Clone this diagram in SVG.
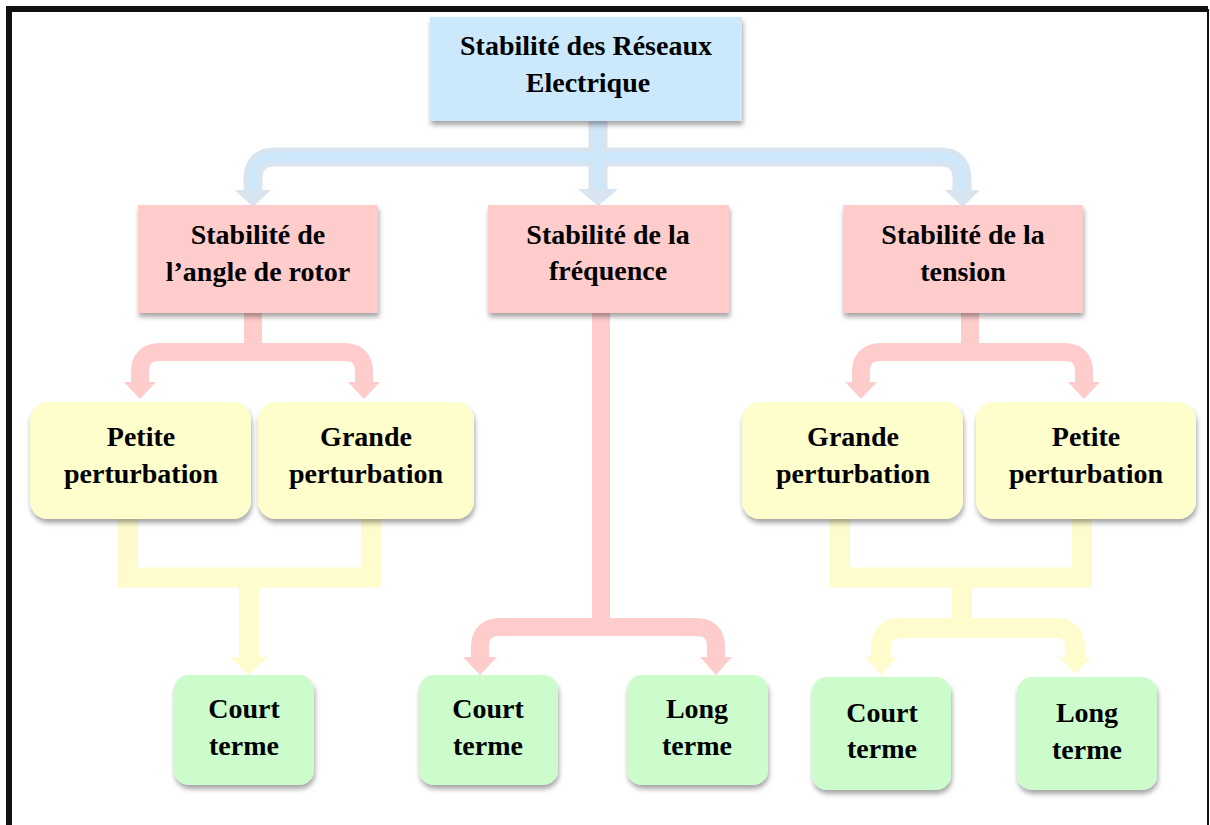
<svg xmlns="http://www.w3.org/2000/svg" width="1210" height="825" viewBox="0 0 1210 825">
  <defs>
    <filter id="sh" x="-10%" y="-10%" width="125%" height="135%">
      <feDropShadow dx="1" dy="4" stdDeviation="2.5" flood-color="#000" flood-opacity="0.35"/>
    </filter>
    <style>
      .t { font-family: "Liberation Serif", "Times New Roman", serif; font-weight: bold; font-size: 28px; fill: #000; text-anchor: middle; }
      .blue { fill: #cce9fb; }
      .red { fill: #ffcccc; }
      .yel { fill: #fefdcc; }
      .grn { fill: #ccfccc; }
      .bo { fill: none; stroke: #d9e4f1; stroke-width: 19; }
      .bi { fill: none; stroke: #cde8fa; stroke-width: 9; }
      .bh { fill: #d9e4f1; }
      .rc { fill: none; stroke: #ffcccc; stroke-width: 18; }
      .rh { fill: #ffcccc; }
      .yc { fill: none; stroke: #fefccc; stroke-width: 20; }
      .yh { fill: #fefccc; }
    </style>
  </defs>
  <rect x="0" y="0" width="1210" height="825" fill="#ffffff"/>
  <g id="frame" fill="none" stroke="#111">
    <path d="M9,830 V9 H1208" stroke-width="6"/>
    <path d="M1208,9 V830" stroke-width="2"/>
  </g>

  <g id="connectors">
    <!-- blue -->
    <path class="bo" d="M598,121 V190 M598,157 H275 Q253,157 253,179 V191 M598,157 H940 Q962,157 962,179 V191"/>
    <path class="bi" d="M598,121 V190 M598,157 H275 Q253,157 253,179 V191 M598,157 H940 Q962,157 962,179 V191"/>
    <polygon class="bh" points="578,189 618,189 598,206"/>
    <polygon class="bh" points="235,190 271,190 253,207"/>
    <polygon class="bh" points="945,190 980,190 962.5,207"/>
    <!-- red left -->
    <path class="rc" d="M253,313 V352 M140,384 V372 Q140,352 160,352 H344 Q364,352 364,372 V384"/>
    <polygon class="rh" points="124,382 156,382 140,399"/>
    <polygon class="rh" points="348,382 380,382 364,399"/>
    <!-- red middle -->
    <path class="rc" d="M601,313 V627 M480,658 V647 Q480,627 500,627 H696 Q716,627 716,647 V658"/>
    <polygon class="rh" points="463,657 497,657 480,675"/>
    <polygon class="rh" points="700,657 732,657 716,675"/>
    <!-- red right -->
    <path class="rc" d="M970,313 V352 M861,384 V372 Q861,352 881,352 H1064 Q1084,352 1084,372 V384"/>
    <polygon class="rh" points="845,382 877,382 861,399"/>
    <polygon class="rh" points="1068,382 1100,382 1084,399"/>
    <!-- yellow left -->
    <path class="yc" d="M128,519 V577.5 H371 V519" stroke-width="21"/>
    <path class="yc" d="M249,577 V658" stroke-width="16"/>
    <polygon class="yh" points="230,657 268,657 249,675"/>
    <!-- yellow right -->
    <path class="yc" d="M840,519 V577.5 H1082 V519" stroke-width="21"/>
    <path class="yc" d="M962,577 V628" stroke-width="19"/>
    <path class="yc" d="M881,658 V648 Q881,628 901,628 H1055 Q1075,628 1075,648 V658"/>
    <polygon class="yh" points="865,657 897,657 881,675"/>
    <polygon class="yh" points="1059,657 1091,657 1075,674"/>
  </g>

  <g id="n-root">
    <rect class="blue" x="430" y="17" width="312" height="104" filter="url(#sh)"/>
    <text class="t" x="586" y="55">Stabilité des Réseaux</text>
    <text class="t" x="588" y="92">Electrique</text>
  </g>

  <g id="n-angle">
    <rect class="red" x="138" y="205" width="240" height="108" filter="url(#sh)"/>
    <text class="t" x="258" y="244">Stabilité de</text>
    <text class="t" x="258" y="281">l’angle de rotor</text>
  </g>
  <g id="n-freq">
    <rect class="red" x="488" y="205" width="241" height="108" filter="url(#sh)"/>
    <text class="t" x="608" y="244">Stabilité de la</text>
    <text class="t" x="608" y="280">fréquence</text>
  </g>
  <g id="n-tension">
    <rect class="red" x="843" y="205" width="240" height="108" filter="url(#sh)"/>
    <text class="t" x="963" y="244">Stabilité de la</text>
    <text class="t" x="963" y="281">tension</text>
  </g>

  <g id="n-angle-petite">
    <rect class="yel" x="30" y="402" width="221" height="117" rx="18" filter="url(#sh)"/>
    <text class="t" x="141" y="446">Petite</text>
    <text class="t" x="141" y="483">perturbation</text>
  </g>
  <g id="n-angle-grande">
    <rect class="yel" x="258" y="402" width="216" height="117" rx="18" filter="url(#sh)"/>
    <text class="t" x="366" y="446">Grande</text>
    <text class="t" x="366" y="483">perturbation</text>
  </g>
  <g id="n-tension-grande">
    <rect class="yel" x="742" y="402" width="221" height="117" rx="18" filter="url(#sh)"/>
    <text class="t" x="853" y="446">Grande</text>
    <text class="t" x="853" y="483">perturbation</text>
  </g>
  <g id="n-tension-petite">
    <rect class="yel" x="976" y="402" width="220" height="117" rx="18" filter="url(#sh)"/>
    <text class="t" x="1086" y="446">Petite</text>
    <text class="t" x="1086" y="483">perturbation</text>
  </g>

  <g id="n-angle-court">
    <rect class="grn" x="174" y="675" width="140" height="110" rx="15" filter="url(#sh)"/>
    <text class="t" x="244" y="718">Court</text>
    <text class="t" x="244" y="755">terme</text>
  </g>
  <g id="n-freq-court">
    <rect class="grn" x="419" y="675" width="139" height="110" rx="15" filter="url(#sh)"/>
    <text class="t" x="488" y="718">Court</text>
    <text class="t" x="488" y="755">terme</text>
  </g>
  <g id="n-freq-long">
    <rect class="grn" x="627" y="675" width="141" height="110" rx="15" filter="url(#sh)"/>
    <text class="t" x="697" y="718">Long</text>
    <text class="t" x="697" y="755">terme</text>
  </g>
  <g id="n-tension-court">
    <rect class="grn" x="812" y="677" width="139" height="113" rx="15" filter="url(#sh)"/>
    <text class="t" x="882" y="722">Court</text>
    <text class="t" x="882" y="758">terme</text>
  </g>
  <g id="n-tension-long">
    <rect class="grn" x="1017" y="677" width="140" height="113" rx="15" filter="url(#sh)"/>
    <text class="t" x="1087" y="722">Long</text>
    <text class="t" x="1087" y="759">terme</text>
  </g>
</svg>
